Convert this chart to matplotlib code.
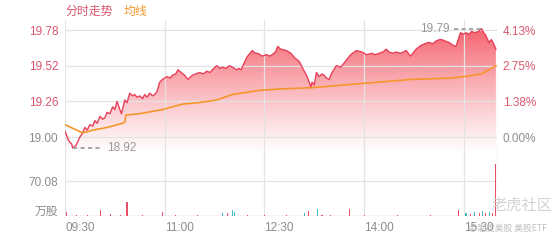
import numpy as np
import matplotlib
matplotlib.use("Agg")
import matplotlib.pyplot as plt
from matplotlib.transforms import blended_transform_factory

plt.rcParams['font.family'] = ['Liberation Sans', 'Noto Sans CJK SC', 'DejaVu Sans']

# ---------------- data ----------------
price_min = [0, 3, 4.5, 6, 7, 10, 13.5, 16, 18, 20, 22.5, 25, 27, 29, 31.5, 34, 36, 38, 40.5, 43,
             45, 47, 49.5, 51, 54, 56, 58.5, 61, 63, 65, 67.5, 70, 72, 74, 76.5, 79, 81, 83, 85.5, 88,
             92, 95, 97, 100, 102, 105, 108, 111, 115, 118, 121.5, 125, 128, 131, 133, 137, 140, 142,
             145, 148.5, 151, 155, 157, 159, 164, 169, 172, 174, 178, 182, 185, 187, 190, 192, 195,
             200, 204, 207, 211.5, 214, 218, 220.5, 222, 223, 225, 227, 229.5, 232, 234, 236, 238.5,
             241, 245, 249, 254, 258, 263, 268, 272, 277, 280, 283.5, 287, 290, 292.5, 296, 299, 303,
             308, 312, 317, 320, 322, 325, 328.5, 332, 335, 338, 340, 343, 346.5, 350, 353, 357, 360,
             362, 365, 367, 370, 373.5, 376, 378, 380, 382.5, 385, 387, 389]
price_val = [19.04, 18.98, 18.96, 18.95, 18.92, 18.94, 19.00, 19.03, 19.07, 19.05, 19.09, 19.08, 19.12,
             19.10, 19.15, 19.13, 19.14, 19.18, 19.17, 19.22, 19.20, 19.26, 19.20, 19.17, 19.27, 19.25,
             19.32, 19.30, 19.31, 19.29, 19.30, 19.28, 19.31, 19.29, 19.32, 19.30, 19.31, 19.33, 19.40,
             19.42, 19.44, 19.43, 19.45, 19.46, 19.49, 19.47, 19.45, 19.42, 19.45, 19.46, 19.47, 19.46,
             19.48, 19.47, 19.49, 19.52, 19.50, 19.51, 19.50, 19.52, 19.51, 19.49, 19.50, 19.49, 19.58,
             19.63, 19.61, 19.61, 19.59, 19.60, 19.59, 19.60, 19.62, 19.66, 19.64, 19.63, 19.61, 19.58,
             19.55, 19.51, 19.45, 19.40, 19.36, 19.40, 19.38, 19.47, 19.44, 19.46, 19.45, 19.43, 19.42,
             19.47, 19.52, 19.51, 19.56, 19.60, 19.63, 19.62, 19.60, 19.61, 19.60, 19.61, 19.62, 19.64,
             19.62, 19.61, 19.62, 19.61, 19.63, 19.59, 19.64, 19.66, 19.67, 19.68, 19.69, 19.68, 19.70,
             19.71, 19.71, 19.70, 19.69, 19.67, 19.66, 19.76, 19.75, 19.76, 19.75, 19.77, 19.76, 19.77,
             19.79, 19.76, 19.74, 19.69, 19.71, 19.68, 19.64]

avg_min = [0, 8, 16, 25, 38, 52, 54, 55, 67.5, 88, 106, 120, 137, 151, 175, 193, 223, 268, 313, 349,
           360, 376, 389]
avg_val = [19.09, 19.06, 19.03, 19.05, 19.07, 19.10, 19.11, 19.16, 19.17, 19.20, 19.24, 19.25, 19.27,
           19.31, 19.34, 19.35, 19.36, 19.39, 19.42, 19.43, 19.44, 19.46, 19.52]

vol_min = [1, 10, 20, 32, 41, 50, 56, 70, 88, 100, 120, 142, 147, 151, 153, 165, 180, 200, 216, 220,
           228, 232, 240, 257, 270, 300, 330, 355, 362, 366, 370, 374, 377, 380, 383, 386, 389]
vol_val = [8, 2, 2, 12, 4, 2, 28, 2, 8, 2, 2, 6, 6, 12, 8, 2, 2, 2, 6, 10,
           14, 3, 2, 14, 2, 2, 2, 12, 6, 5, 8, 6, 10, 7, 9, 6, 105]
vol_up = [1, 1, 1, 1, 1, 1, 1, 1, 1, 1, 1, 0, 1, 0, 0, 1, 1, 1, 0, 1,
          0, 1, 1, 1, 1, 1, 1, 1, 0, 1, 0, 1, 0, 1, 0, 1, 1]

price_ticks = [19.78, 19.52, 19.26, 19.00]
pct_labels = ["4.13%", "2.75%", "1.38%", "0.00%"]
vol_tick = 70.08
time_ticks = [0, 90, 180, 270, 360]
time_labels = ["09:30", "11:00", "12:30", "14:00", "15:30"]

# ---------------- style ----------------
RED = "#d9566e"
GRAY = "#8c8c8c"
LINE = "#e8405a"
ORANGE = "#f5962a"
GRID = "#e3e3e3"
W, H = 560, 240

fig = plt.figure(figsize=(5.6, 2.4), dpi=100)
L, R = 65 / W, 497 / W
axp = fig.add_axes([L, 1 - 162 / H, R - L, (162 - 20) / H])
axv = fig.add_axes([L, 1 - 216 / H, R - L, (216 - 162) / H])

ylo, yhi = 18.818, 19.853
for ax in (axp, axv):
    ax.set_xlim(0, 390)
    for s in ax.spines.values():
        s.set_visible(False)
    for t in time_ticks + [390]:
        ax.axvline(t, color=GRID, lw=0.9, zorder=3)
    ax.tick_params(length=0)

# price panel
axp.set_ylim(ylo, yhi)
pm = np.array(price_min)
pv = np.array(price_val)
poly = axp.fill_between(pm, pv, ylo, facecolor="none", edgecolor="none")
# vertical gradient
grad_lo = 18.869
ys = np.linspace(yhi, ylo, 300)
f = np.clip((ys - grad_lo) / (yhi - grad_lo), 0, 1) ** 1.15
base = np.array([244, 88, 100]) / 255.0
img = np.ones((300, 2, 4))
img[:, :, 0] = base[0]
img[:, :, 1] = base[1]
img[:, :, 2] = base[2]
img[:, :, 3] = f[:, None]
im = axp.imshow(img, extent=[0, 390, ylo, yhi], aspect="auto", origin="upper", zorder=1,
                interpolation="bilinear")
im.set_clip_path(poly.get_paths()[0], transform=axp.transData)

for v in price_ticks:
    axp.axhline(v, color=GRID, lw=0.9, zorder=3)
axp.plot(pm, pv, color=LINE, lw=1.0, zorder=5)
axp.plot(avg_min, avg_val, color=ORANGE, lw=1.2, zorder=5)

axp.set_yticks(price_ticks)
axp.set_yticklabels([f"{v:.2f}" for v in price_ticks], fontsize=8.5)
axp.tick_params(axis="y", pad=5)
for lab, v in zip(axp.get_yticklabels(), price_ticks):
    lab.set_color(RED if v > 19.0 else GRAY)
axp.set_xticks([])

axr = axp.twinx()
axr.set_ylim(ylo, yhi)
for s in axr.spines.values():
    s.set_visible(False)
axr.set_yticks(price_ticks)
axr.set_yticklabels(pct_labels, fontsize=8.5)
axr.tick_params(length=0, pad=4)
for lab, v in zip(axr.get_yticklabels(), price_ticks):
    lab.set_color(RED if v > 19.0 else GRAY)

# max/min annotations
imax = int(np.argmax(pv))
imin = int(np.argmin(pv))
axp.plot([pm[imax] - 25, pm[imax]], [pv[imax], pv[imax]], color="#999999", lw=1.2,
         ls=(0, (2.5, 2)), zorder=6)
axp.text(pm[imax] - 29, pv[imax], f"{pv[imax]:.2f}", color="#999999", fontsize=8.5,
         ha="right", va="center", zorder=6)
axp.plot([pm[imin], pm[imin] + 26], [pv[imin], pv[imin]], color="#999999", lw=1.2,
         ls=(0, (2.5, 2)), zorder=6)
axp.text(pm[imin] + 31, pv[imin], f"{pv[imin]:.2f}", color="#999999", fontsize=8.5,
         ha="left", va="center", zorder=6)

# legend-like title
fig.text(65 / W, 1 - 11 / H, "分时走势", color=RED, fontsize=8.6, ha="left", va="center",
         family=['Noto Sans CJK SC'])
fig.text(124 / W, 1 - 11 / H, "均线", color=ORANGE, fontsize=8.6, ha="left", va="center",
         family=['Noto Sans CJK SC'])

# volume panel
vmax = vol_tick * 54 / 35
axv.set_ylim(0, vmax)
axv.axhline(vol_tick, color=GRID, lw=0.9, zorder=3)
axv.axhline(0.6, color="#f0b8c0", lw=1.0, zorder=2)
cols = ["#e8506a" if u else "#3fb8c8" for u in vol_up]
axv.bar(vol_min, vol_val, width=1.0, color=cols, lw=0, zorder=4)
axv.set_yticks([vol_tick])
axv.set_yticklabels([f"{vol_tick:.2f}"], fontsize=8.5, color=GRAY)
axv.tick_params(axis="y", pad=5)
axv.text(-0.016, 10, "万股", transform=blended_transform_factory(axv.transAxes, axv.transData),
         ha="right", va="center", fontsize=8.5, color=GRAY, family=['Noto Sans CJK SC'])
axv.set_xticks(time_ticks)
axv.set_xticklabels(time_labels, fontsize=8.5, color=GRAY, ha="left")
axv.tick_params(axis="x", pad=4)

# watermark
fig.text(522 / W, 1 - 205 / H, "老虎社区", color="#cfcfcf", fontsize=11, ha="center",
         va="center", family=['Noto Sans CJK SC'], alpha=0.9)
fig.text(508 / W, 1 - 228 / H, "@老虎美股 美股ETF", color="#b0b0b0", fontsize=6.3, ha="center",
         va="center", family=['Noto Sans CJK SC', 'DejaVu Sans'], alpha=0.8)

fig.savefig("out.png", dpi=100)
